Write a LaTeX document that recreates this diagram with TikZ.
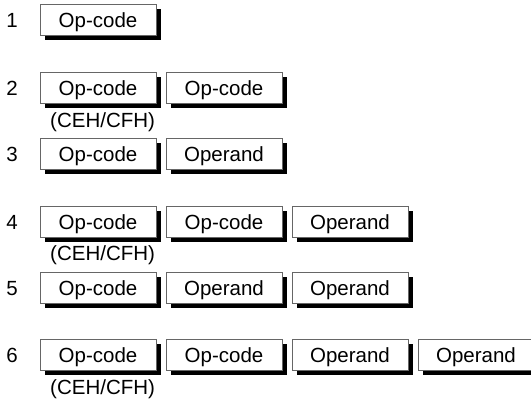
\documentclass[tikz,border=0pt]{standalone}
\usepackage{fontspec}
\setmainfont{Liberation Sans}
\usetikzlibrary{shadows}
\begin{document}
\begin{tikzpicture}[x=1pt,y=-1pt,
  opbox/.style={draw=black!60, line width=0.8pt, fill=white, minimum width=116pt, minimum height=31pt, inner sep=0pt,
    text height=15pt, text depth=0pt,
    font=\fontsize{20.5}{24}\selectfont,
    drop shadow={shadow xshift=4.5pt, shadow yshift=-4.5pt, fill=black, opacity=1}},
  numlbl/.style={font=\fontsize{20.5}{24}\selectfont, inner sep=0pt},
  note/.style={font=\fontsize{20.5}{24}\selectfont, inner sep=0pt, anchor=west}]
\useasboundingbox (0,0) rectangle (531,399);
% row 1
\node[numlbl] (n1) at (12,20.5) {1};
\node[opbox] (r1a) at (98,20) {Op-code};
% row 2
\node[numlbl] (n2) at (12,88) {2};
\node[opbox] (r2a) at (98,87.5) {Op-code};
\node[opbox] (r2b) at (224,87.5) {Op-code};
\node[note] (c2) at (50,122) {(CEH/CFH)};
% row 3
\node[numlbl] (n3) at (12,154.5) {3};
\node[opbox] (r3a) at (98,154) {Op-code};
\node[opbox] (r3b) at (224,154) {Operand};
% row 4
\node[numlbl] (n4) at (12,222.5) {4};
\node[opbox] (r4a) at (98,222) {Op-code};
\node[opbox] (r4b) at (224,222) {Op-code};
\node[opbox] (r4c) at (350,222) {Operand};
\node[note] (c4) at (50,255.5) {(CEH/CFH)};
% row 5
\node[numlbl] (n5) at (12,288.5) {5};
\node[opbox] (r5a) at (98,288) {Op-code};
\node[opbox] (r5b) at (224,288) {Operand};
\node[opbox] (r5c) at (350,288) {Operand};
% row 6
\node[numlbl] (n6) at (12,355.5) {6};
\node[opbox] (r6a) at (98,355) {Op-code};
\node[opbox] (r6b) at (224,355) {Op-code};
\node[opbox] (r6c) at (350,355) {Operand};
\node[opbox] (r6d) at (476,355) {Operand};
\node[note] (c6) at (50,389) {(CEH/CFH)};
\end{tikzpicture}
\end{document}
